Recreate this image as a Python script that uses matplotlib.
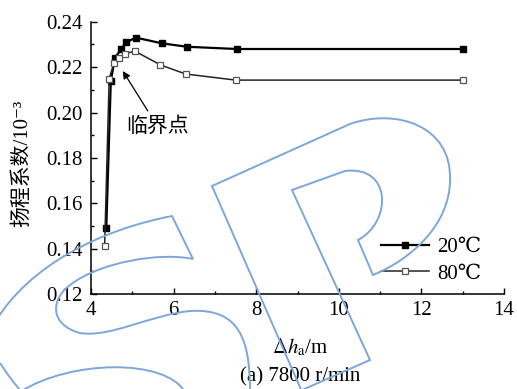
import numpy as np
import matplotlib.pyplot as plt
from matplotlib.ticker import MultipleLocator
from matplotlib.path import Path
from matplotlib.patches import PathPatch

plt.rcParams['font.family'] = ['Liberation Serif', 'DejaVu Serif', 'Noto Sans CJK SC']
plt.rcParams['mathtext.fontset'] = 'stix'
plt.rcParams['font.size'] = 15

# head coefficient vs. available NPSH, 7800 r/min
dh_20 = [4.37, 4.48, 4.58, 4.73, 4.85, 5.09, 5.72, 6.32, 7.53, 13.0]
coef_20 = [0.149, 0.214, 0.224, 0.228, 0.231, 0.233, 0.2305, 0.229, 0.228, 0.228]
dh_80 = [4.33, 4.44, 4.56, 4.68, 4.82, 5.07, 5.68, 6.29, 7.50, 13.0]
coef_80 = [0.141, 0.215, 0.222, 0.224, 0.226, 0.227, 0.221, 0.217, 0.2143, 0.2143]

xticks = [4, 6, 8, 10, 12, 14]
yticks = [0.12, 0.14, 0.16, 0.18, 0.20, 0.22, 0.24]

fig = plt.figure(figsize=(5.17, 3.89), dpi=100)
ax = fig.add_axes([0.176, 0.244, 0.799, 0.700])

ax.plot(dh_20, coef_20, color='black', lw=1.6, marker='s', ms=5,
        mfc='black', mec='black', label='20℃')
ax.plot(dh_80, coef_80, color='#222222', lw=1.1, marker='s', ms=5,
        mfc='white', mec='#555555', mew=0.9, label='80℃')

ax.set_xlim(4, 14)
ax.set_ylim(0.12, 0.24)
ax.set_xticks(xticks)
ax.set_yticks(yticks)
ax.set_yticklabels([f'{v:.2f}' for v in yticks])
ax.xaxis.set_minor_locator(MultipleLocator(1))
ax.yaxis.set_minor_locator(MultipleLocator(0.01))
ax.tick_params(which='both', direction='in', width=1.0)
ax.tick_params(which='major', length=4.3)
ax.tick_params(which='minor', length=2.5)
ax.tick_params(axis='x', pad=5)
ax.tick_params(axis='y', pad=6)
for s in ['top', 'right']:
    ax.spines[s].set_visible(False)
for s in ['left', 'bottom']:
    ax.spines[s].set_linewidth(1.1)

ax.set_ylabel('扬程系数/10⁻³')
ax.yaxis.set_label_coords(-0.143, 0.48)
ax.set_xlabel(r'$\Delta h_{\rm a}$/m')
ax.xaxis.set_label_coords(0.506, -0.155)

ax.annotate('临界点', xy=(4.77, 0.2183), xytext=(5.62, 0.1936),
            ha='center', va='center',
            arrowprops=dict(arrowstyle='-|>', color='black', lw=0.9,
                            mutation_scale=11, shrinkA=3, shrinkB=0))

ax.legend(frameon=False, loc='upper left', bbox_to_anchor=(0.737, 0.39),
          bbox_transform=fig.transFigure, handlelength=2.3,
          handletextpad=0.38, labelspacing=0.35, borderpad=0,
          borderaxespad=0)

fig.text(300 / 517, 1 - 377 / 389, '(a) 7800 r/min', ha='center', va='center')


# light blue "SP" stamp over the figure
def stamp(verts, codes):
    pts = [(x / 517, 1 - y / 389) for x, y in verts]
    patch = PathPatch(Path(pts, codes), fill=False, edgecolor='#7ea6da',
                      lw=1.4, transform=fig.transFigure, zorder=10)
    fig.add_artist(patch)


M, L, C = Path.MOVETO, Path.LINETO, Path.CURVE4
stamp([(303, 394), (212, 186), (350, 124),
       (395, 108), (452, 125), (450, 180),
       (450, 225), (410, 260), (373, 275),
       (358, 240),
       (392, 222), (392, 165), (345, 171),
       (292, 190), (370, 360), (293, 394)],
      [M, L, L, C, C, C, C, C, C, L, C, C, C, L, L, L])
stamp([(-5, 322), (30, 265), (100, 230), (172, 216),
       (193, 259),
       (160, 252), (100, 262), (70, 285),
       (50, 300), (50, 325), (80, 333),
       (110, 338), (150, 315), (190, 311),
       (240, 308), (250, 340), (250, 392)],
      [M, C, C, C, L, C, C, C, C, C, C, C, C, C, C, C, C])
stamp([(0, 363), (8, 375), (15, 385), (22, 392)], [M, C, C, C])
stamp([(20, 392), (70, 360), (165, 358), (185, 392)], [M, C, C, C])

fig.savefig('out.png', dpi=100)
